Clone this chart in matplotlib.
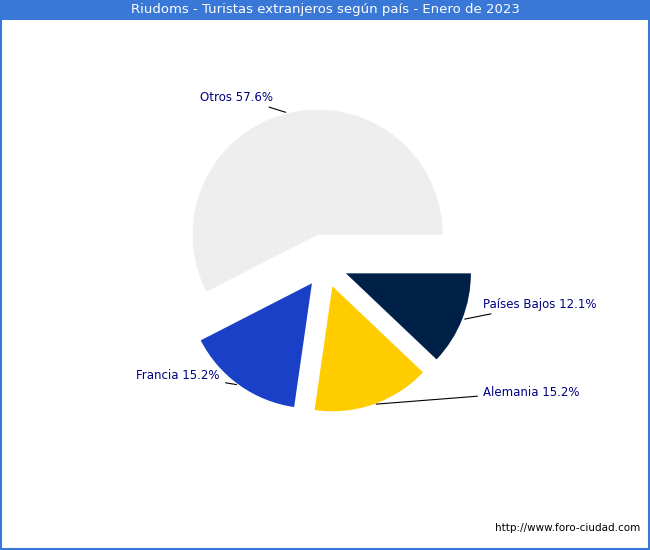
import matplotlib
matplotlib.use("Agg")
import matplotlib.pyplot as plt
import numpy as np

labels = ["Países Bajos", "Alemania", "Francia", "Otros"]
values = [12.1, 15.2, 15.2, 57.6]
colors = ["#002147", "#ffcc00", "#1a40c8", "#eeeeee"]
explode = [0.18, 0.18, 0.18, 0.25]
# label text positions in pixels (x, y from top) and alignment
text_pos = [(483, 304, "left"), (483, 392, "left"), (220, 375, "right"), (273, 97, "right")]

W, H = 650, 550
fig = plt.figure(figsize=(6.5, 5.5), dpi=100)
fig.patch.set_facecolor("white")
ax = fig.add_axes([0, 0, 1, 1 - 20 / H])
S = 125.0
cx, cy = 325, 265

wedges, _ = ax.pie(values, colors=colors, explode=explode, startangle=0,
                   counterclock=False, radius=1)
ax.set_aspect("auto")
ax.set_xlim(-cx / S, (W - cx) / S)
ax.set_ylim(-(H - cy) / S, (cy - 20) / S)
ax.axis("off")
for w, lab, v, (tx, ty, ha) in zip(wedges, labels, values, text_pos):
    ang = np.deg2rad((w.theta1 + w.theta2) / 2)
    c = w.center
    px, py = c[0] + np.cos(ang), c[1] + np.sin(ang)
    dx, dy = (tx - cx) / S, (cy - ty) / S
    ax.annotate(f"{lab} {v}%", xy=(px, py), xytext=(dx, dy), ha=ha, va="center",
                fontsize=8.5, color="#000080",
                arrowprops=dict(arrowstyle="-", color="black", lw=0.8))

fig.patches.append(plt.Rectangle((0, 1 - 20 / H), 1, 20 / H, transform=fig.transFigure,
                                 facecolor="#3a78d8", edgecolor="none"))
fig.text(0.5, 1 - 10 / H, "Riudoms - Turistas extranjeros según país - Enero de 2023",
         ha="center", va="center", color="white", fontsize=9.5)
fig.patches.append(plt.Rectangle((0.001, 0.001), 0.998, 0.998, transform=fig.transFigure,
                                 facecolor="none", edgecolor="#3a78d8", lw=1.5))
fig.text(0.985, 22 / H, "http://www.foro-ciudad.com", ha="right", va="center", fontsize=7.5)
fig.savefig("out.png", dpi=100)
